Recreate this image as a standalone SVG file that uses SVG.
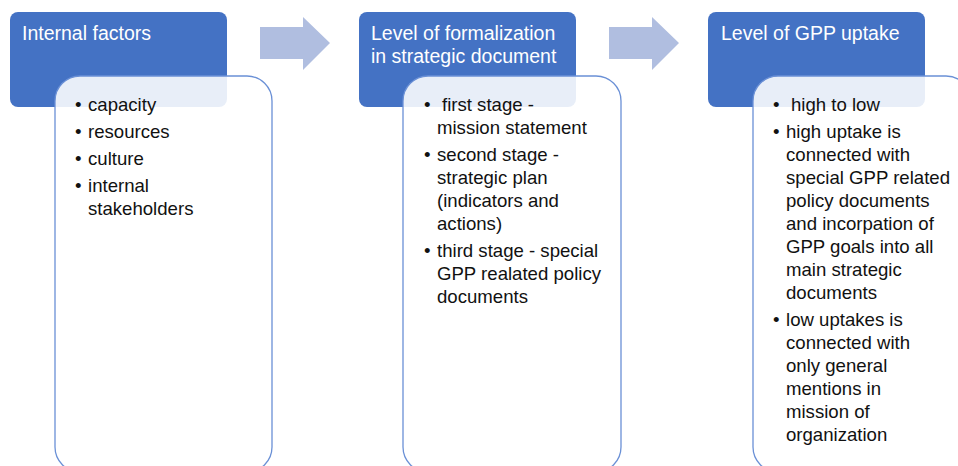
<svg xmlns="http://www.w3.org/2000/svg" width="958" height="466" viewBox="0 0 958 466">
<defs>
<style>
.hdr{fill:#4472C4;}
.body{fill:#ffffff;fill-opacity:0.88;stroke:#6A90D6;stroke-width:1.3;}
.arr{fill:#B0BEE0;}
.ht{font-family:"Liberation Sans",Arial,sans-serif;font-size:19.5px;fill:#ffffff;}
.bt{font-family:"Liberation Sans",Arial,sans-serif;font-size:18.6px;fill:#111111;}
</style>
</defs>
<rect width="958" height="466" fill="#ffffff"/>
<g id="connectors">
<polygon class="arr" points="260,27 303,27 303,17 330,43 303,70 303,59 260,59"/>
<polygon class="arr" points="609,27 652,27 652,17 679,43 652,70 652,59 609,59"/>
</g>
<g id="node-internal-factors">
<rect class="hdr" x="10" y="12" width="217" height="95" rx="8"/>
<text class="ht" x="22" y="40">Internal factors</text>
<rect class="body" x="55" y="76" width="217" height="396" rx="25"/>
<text class="bt"><tspan x="75" y="111">•</tspan><tspan x="88" y="111">capacity</tspan><tspan x="75" y="138">•</tspan><tspan x="88" y="138">resources</tspan><tspan x="75" y="165">•</tspan><tspan x="88" y="165">culture</tspan><tspan x="75" y="192">•</tspan><tspan x="88" y="192">internal</tspan><tspan x="88" y="215">stakeholders</tspan></text>
</g>
<g id="node-formalization">
<rect class="hdr" x="359" y="12" width="217" height="95" rx="8"/>
<text class="ht"><tspan x="371" y="40">Level of formalization</tspan><tspan x="371" y="63">in strategic document</tspan></text>
<rect class="body" x="403" y="76" width="218" height="396" rx="25"/>
<text class="bt"><tspan x="424" y="111">•</tspan><tspan x="442" y="111">first stage -</tspan><tspan x="437" y="134">mission statement</tspan><tspan x="424" y="161">•</tspan><tspan x="437" y="161">second stage -</tspan><tspan x="437" y="184">strategic plan</tspan><tspan x="437" y="207">(indicators and</tspan><tspan x="437" y="230">actions)</tspan><tspan x="424" y="257">•</tspan><tspan x="437" y="257">third stage - special</tspan><tspan x="437" y="280">GPP realated policy</tspan><tspan x="437" y="303">documents</tspan></text>
</g>
<g id="node-gpp-uptake">
<rect class="hdr" x="708" y="12" width="217" height="95" rx="8"/>
<text class="ht" x="721" y="40">Level of GPP uptake</text>
<rect class="body" x="753" y="76" width="218" height="396" rx="25"/>
<text class="bt"><tspan x="773" y="111">•</tspan><tspan x="791" y="111">high to low</tspan><tspan x="773" y="138">•</tspan><tspan x="786" y="138">high uptake is</tspan><tspan x="786" y="161">connected with</tspan><tspan x="786" y="184">special GPP related</tspan><tspan x="786" y="207">policy documents</tspan><tspan x="786" y="230">and incorpation of</tspan><tspan x="786" y="253">GPP goals into all</tspan><tspan x="786" y="276">main strategic</tspan><tspan x="786" y="299">documents</tspan><tspan x="773" y="326">•</tspan><tspan x="786" y="326">low uptakes is</tspan><tspan x="786" y="349">connected with</tspan><tspan x="786" y="372">only general</tspan><tspan x="786" y="395">mentions in</tspan><tspan x="786" y="418">mission of</tspan><tspan x="786" y="441">organization</tspan></text>
</g>
</svg>
